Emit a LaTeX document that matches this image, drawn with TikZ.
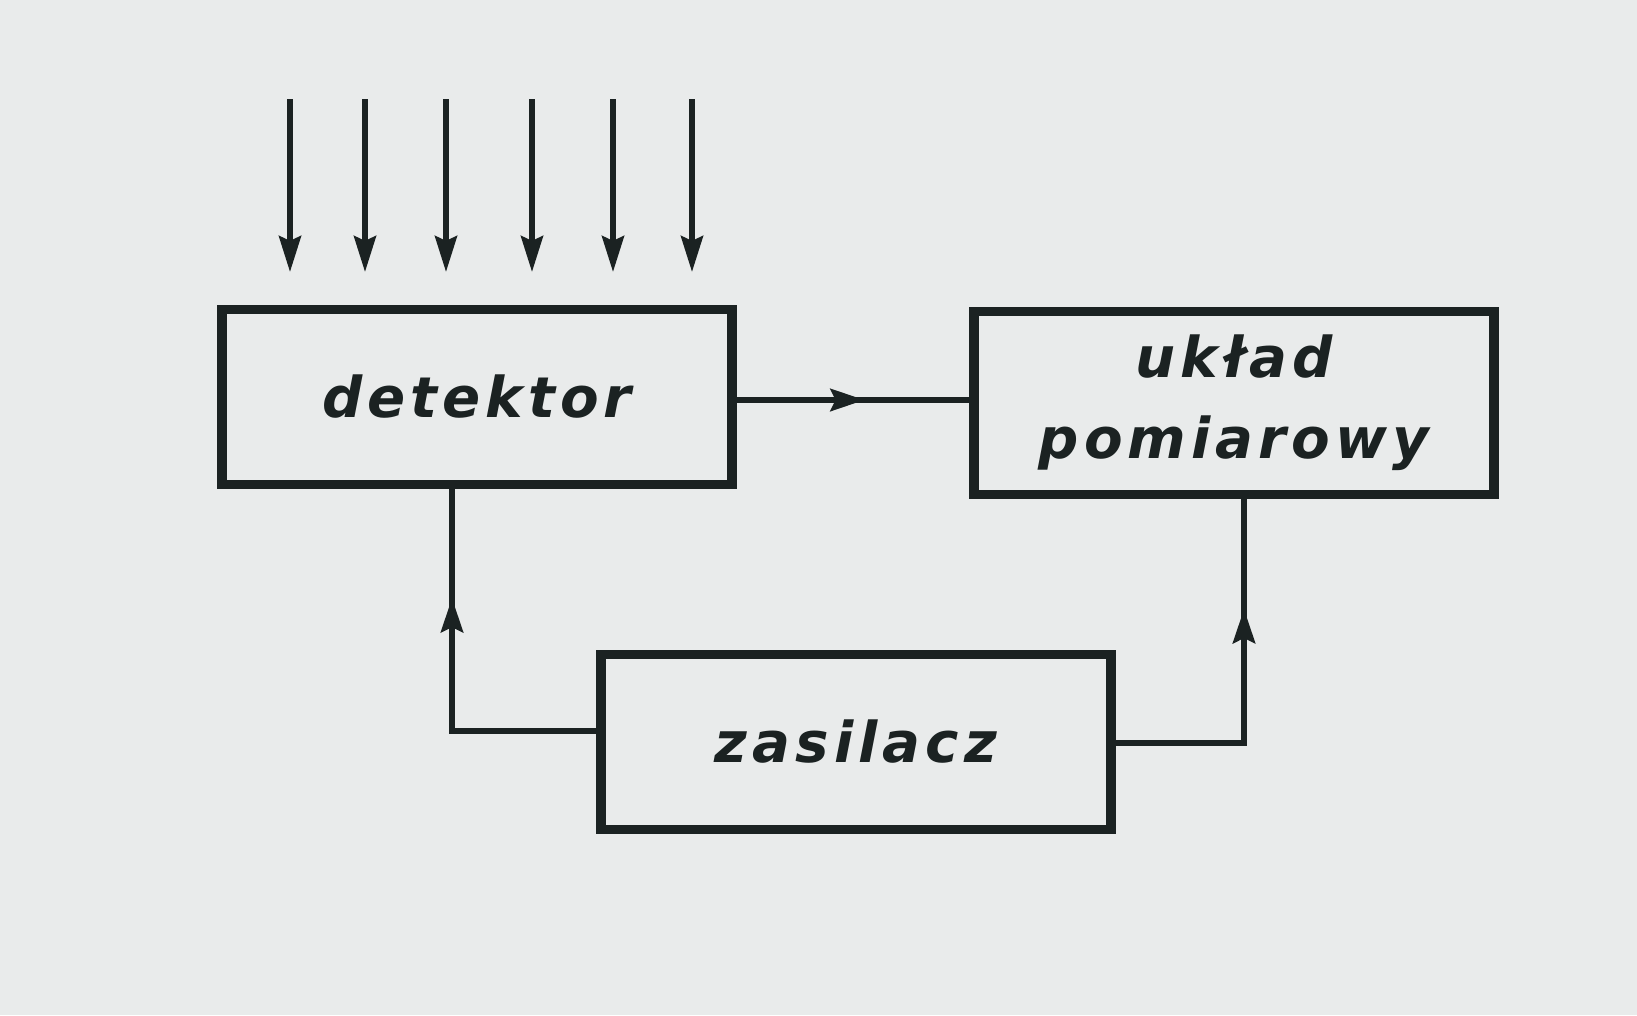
\documentclass[tikz,border=0pt]{standalone}
\usepackage{fontspec}
\setmainfont{DejaVu Sans}[LetterSpace=9]
\usepackage{tikz}
\usetikzlibrary{arrows.meta,positioning,calc,decorations.markings}

\definecolor{paper}{HTML}{E9EBEB}
\definecolor{ink}{HTML}{1B2222}

\begin{document}
\begin{tikzpicture}[
  block/.style={rectangle, draw=ink, line width=2.8pt, fill=paper, minimum width=5.1cm, minimum height=1.75cm, align=center, font=\bfseries\itshape\fontsize{16}{23}\selectfont, text=ink},
  conn/.style={draw=ink, line width=1.8pt, line cap=rect},
  ray/.style={draw=ink, line width=1.6pt, -{Stealth[length=0.36cm,width=0.22cm,inset=0.05cm]}},
  midarrow/.style={postaction={decorate}, decoration={markings, mark=at position 0.55 with {\arrow{Stealth[length=0.34cm,width=0.22cm,inset=0.05cm]}}}},
  >=Stealth
]
  % canvas
  \fill[paper] (0,0) rectangle (16.37,10.15);
  \useasboundingbox (0,0) rectangle (16.37,10.15);

  % Blocks
  \node[block] (det) at (4.77, 6.18) {detektor};
  \node[block, minimum width=5.2cm, minimum height=1.83cm] (ukl) at (12.34, 6.12) {układ\\pomiarowy};
  \node[block] (zas) at (8.56, 2.73) {zasilacz};

  % Incoming radiation
  \foreach \x [count=\i] in {2.90, 3.65, 4.46, 5.32, 6.13, 6.92} {
    \coordinate (r\i) at (\x, 9.16);
    \coordinate (t\i) at (\x, 7.43);
    \draw[ray] (r\i) -- (t\i);
  }

  % detektor -> uklad pomiarowy
  \draw[conn, midarrow] (det.east) ++(0,-0.03) coordinate (dout) -- (dout -| ukl.west);

  % zasilacz -> detektor
  \coordinate (cl) at (4.52, 2.84);
  \draw[conn] (zas.west |- cl) -- (cl);
  \draw[conn, midarrow] (cl) -- (cl |- det.south);

  % zasilacz -> uklad pomiarowy
  \coordinate (cr) at (12.44, 2.72);
  \draw[conn] (zas.east |- cr) -- (cr);
  \draw[conn, midarrow] (cr) -- (cr |- ukl.south);
\end{tikzpicture}
\end{document}
